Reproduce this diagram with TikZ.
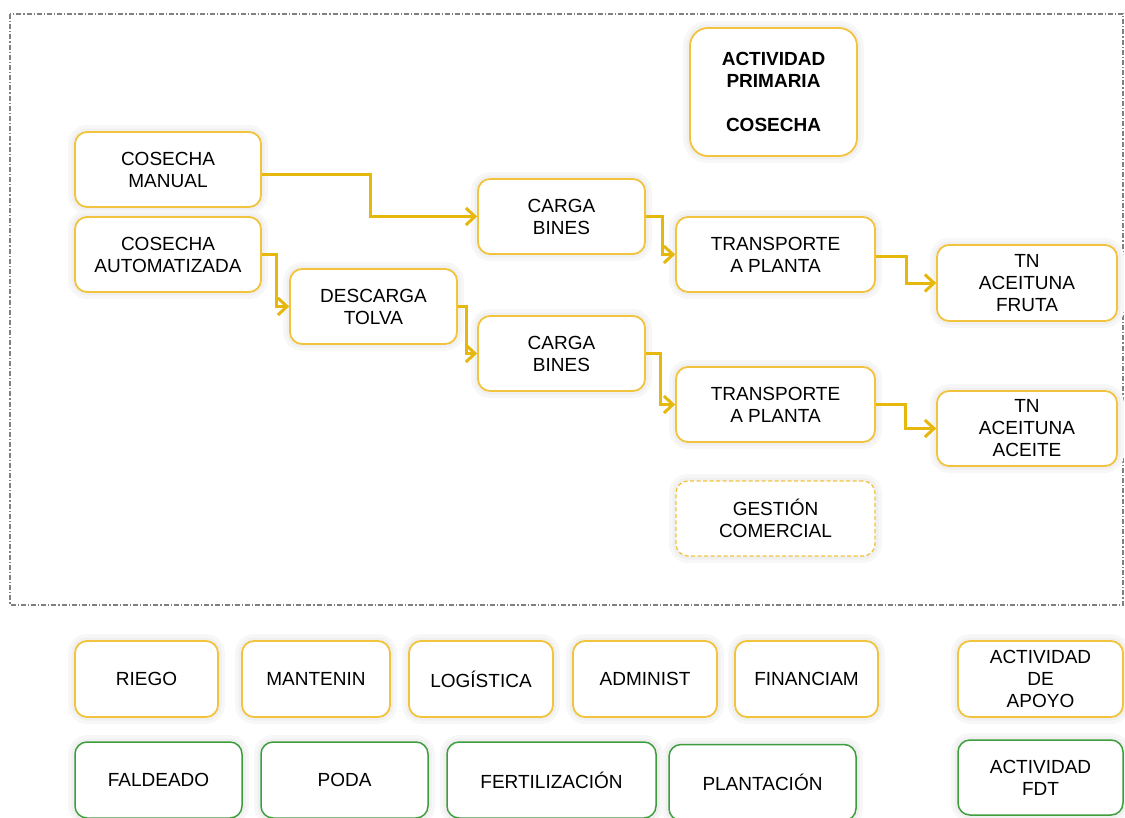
\documentclass[tikz,border=0pt]{standalone}
\usepackage{fontspec}
\setmainfont{Liberation Sans}
\usetikzlibrary{arrows.meta}
\definecolor{boxy}{HTML}{F2C43D}
\definecolor{liney}{HTML}{E6B70C}
\definecolor{boxg}{HTML}{3E9E3E}
\begin{document}
\begin{tikzpicture}[x=1pt,y=-1pt,
  box/.style={draw=boxy, line width=1.8pt, rounded corners=12pt, fill=white,
    align=center, inner sep=0pt, text=black,
    font=\fontsize{19}{22}\selectfont,
    preaction={draw=black!3, solid, line width=14pt},
    preaction={draw=black!6, solid, line width=7pt}},
  gbox/.style={box, draw=boxg, line width=1.5pt},
  dbox/.style={box, dash pattern=on 4pt off 2.5pt, line width=1.3pt},
  conn/.style={draw=liney, line width=3pt,
    -{Straight Barb[length=9pt,width=17pt]}},
  frame/.style={draw=black!50, line width=1.1pt,
    dash pattern=on 5pt off 2pt on 1.2pt off 2pt}]
\useasboundingbox (0,0) rectangle (1125,817);
\draw[frame] (10,14) rectangle (1123,605);

% primary flow
\node[box, rounded corners=18pt, minimum width=167pt, minimum height=128pt,
  font=\fontsize{19}{22}\selectfont\bfseries] (prim) at (773.5,92)
  {ACTIVIDAD\\PRIMARIA\\[22pt]COSECHA};
\node[box, minimum width=186pt, minimum height=75pt] (cm) at (168,169.5) {COSECHA\\MANUAL};
\node[box, minimum width=186pt, minimum height=75pt] (ca) at (168,254.5) {COSECHA\\AUTOMATIZADA};
\node[box, minimum width=167pt, minimum height=75pt] (cb1) at (561.5,216.5) {CARGA\\BINES};
\node[box, minimum width=167pt, minimum height=75pt] (dt) at (373.5,306.5) {DESCARGA\\TOLVA};
\node[box, minimum width=167pt, minimum height=75pt] (cb2) at (561.5,353.5) {CARGA\\BINES};
\node[box, minimum width=199pt, minimum height=75pt] (tp1) at (775.5,254.5) {TRANSPORTE\\A PLANTA};
\node[box, minimum width=199pt, minimum height=75pt] (tp2) at (775.5,404.5) {TRANSPORTE\\A PLANTA};
\node[box, minimum width=180pt, minimum height=76pt] (tnf) at (1027,283) {TN\\ACEITUNA\\FRUTA};
\node[box, minimum width=180pt, minimum height=75pt] (tna) at (1027,428.5) {TN\\ACEITUNA\\ACEITE};
\node[dbox, minimum width=199pt, minimum height=75pt] (gc) at (775.5,518.5) {GESTIÓN\\COMERCIAL};

% connectors
\draw[conn] ([yshift=-4.5pt]cm.east) -- ++(109,0) |- (cb1.west);
\draw[conn] (ca.east) -- ++(15,0) |- (dt.west);
\draw[conn] (dt.east) -- ++(9,0) |- (cb2.west);
\draw[conn] (cb1.east) -- ++(17,0) |- (tp1.west);
\draw[conn] (cb2.east) -- ++(15,0) |- (tp2.west);
\draw[conn] ([yshift=-1.5pt]tp1.east) -- ++(31,0) |- (tnf.west);
\draw[conn] (tp2.east) -- ++(30,0) |- (tna.west);

% support activities
\node[box, minimum width=143pt, minimum height=76pt] (riego) at (146.5,679) {RIEGO};
\node[box, minimum width=148pt, minimum height=76pt] (mant) at (316,679) {MANTENIN};
\node[box, minimum width=144pt, minimum height=76pt] (logi) at (481,679) {LOGÍSTICA};
\node[box, minimum width=144pt, minimum height=76pt] (adm) at (645,679) {ADMINIST};
\node[box, minimum width=143pt, minimum height=76pt] (fin) at (806.5,679) {FINANCIAM};
\node[box, minimum width=165pt, minimum height=76pt] (apoyo) at (1040.5,679) {ACTIVIDAD\\DE\\APOYO};

% FDT activities
\node[gbox, minimum width=167pt, minimum height=76pt] (fald) at (158.5,780) {FALDEADO};
\node[gbox, minimum width=167pt, minimum height=76pt] (poda) at (344.5,780) {PODA};
\node[gbox, minimum width=209pt, minimum height=76pt] (fert) at (551.5,780) {FERTILIZACIÓN};
\node[gbox, minimum width=187pt, minimum height=76pt] (plant) at (762.5,782.5) {PLANTACIÓN};
\node[gbox, minimum width=165pt, minimum height=75pt] (fdt) at (1040.5,777.5) {ACTIVIDAD\\FDT};
\end{tikzpicture}
\end{document}
